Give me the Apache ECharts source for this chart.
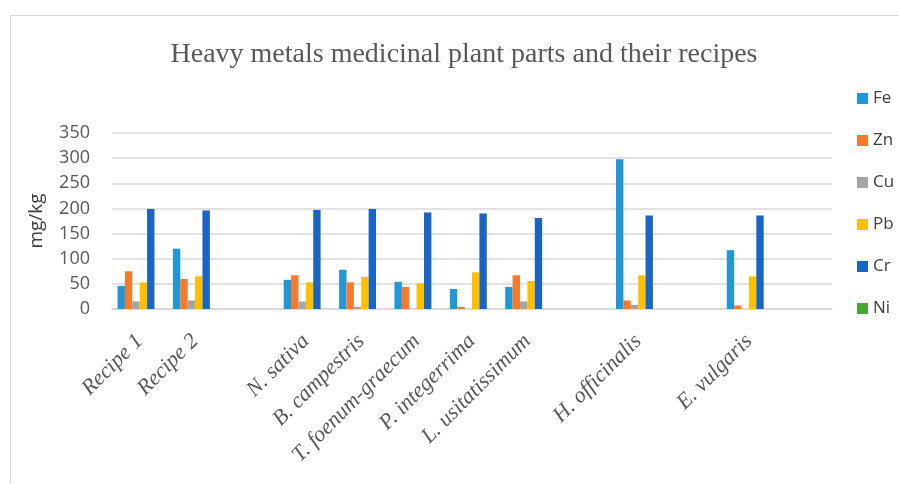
<!DOCTYPE html>
<html lang="en">
<head>
<meta charset="UTF-8">
<title>Heavy metals</title>
<script src="https://cdn.jsdelivr.net/npm/echarts@6/dist/echarts.min.js"></script>
<style>
  html, body { margin: 0; padding: 0; background: #fff; }
  #main { width: 899px; height: 484px; }
</style>
</head>
<body>
<div id="main"></div>
<script type="text/javascript">
// categories (empty strings are the gaps in the original chart)
var categories = ['Recipe 1', 'Recipe 2', '', 'N. sativa', 'B. campestris', 'T. foenum-graecum',
    'P. integerrima', 'L. usitatissimum', '', 'H. officinalis', '', 'E. vulgaris', ''];
var fe = [46, 120, null, 58, 78, 54, 40, 44, null, 298, null, 117, null];
var zn = [75, 60, null, 67, 53, 44, 4, 67, null, 17, null, 7, null];
var cu = [15, 17, null, 15, 4, 0, 0, 15, null, 8, null, 0, null];
var pb = [53, 65, null, 53, 64, 51, 73, 56, null, 67, null, 65, null];
var cr = [199, 196, null, 197, 199, 192, 190, 181, null, 186, null, 186, null];
var ni = [0, 0, null, 0, 0, 0, 0, 0, null, 0, null, 0, null];
var yTicks = [0, 50, 100, 150, 200, 250, 300, 350];

var seriesNames = ['Fe', 'Zn', 'Cu', 'Pb', 'Cr', 'Ni'];
var seriesData = [fe, zn, cu, pb, cr, ni];
var colors = ['#2396d6', '#f57b2a', '#a5a5a5', '#ffc000', '#1a64c4', '#45a635'];

var myChart = echarts.init(document.getElementById('main'));

var series = seriesNames.map(function (name, i) {
    return {
        name: name,
        type: 'bar',
        data: seriesData[i],
        barGap: '0%',
        barCategoryGap: '20%',
        itemStyle: { color: colors[i] }
    };
});

var option = {
    color: colors,
    animation: false,
    // faint frame around the chart (open at right/bottom like the picture)
    graphic: [{
        type: 'rect',
        shape: { x: 10.5, y: 15.5, width: 900, height: 480 },
        style: { fill: 'none', stroke: '#d9d9d9', lineWidth: 1 },
        silent: true
    }],
    title: {
        text: 'Heavy metals medicinal plant parts and their recipes',
        left: 459,
        textAlign: 'center',
        top: 36,
        textStyle: {
            fontFamily: 'Liberation Serif',
            fontSize: 28,
            fontWeight: 'normal',
            color: '#595959'
        }
    },
    legend: {
        orient: 'vertical',
        left: 852,
        top: 85,
        itemWidth: 11,
        itemHeight: 11,
        itemGap: 25,
        icon: 'rect',
        data: seriesNames,
        textStyle: {
            fontFamily: 'Open Sans',
            fontSize: 17,
            color: '#404040'
        }
    },
    grid: {
        left: 112,
        right: 67,
        top: 133,
        bottom: 175
    },
    xAxis: {
        type: 'category',
        data: categories,
        axisTick: { show: false },
        axisLine: { lineStyle: { color: '#d9d9d9', width: 1.5 } },
        axisLabel: {
            interval: 0,
            rotate: 45,
            margin: 29,
            fontFamily: 'Liberation Serif',
            fontStyle: 'italic',
            fontSize: 22,
            color: '#595959'
        }
    },
    yAxis: {
        type: 'value',
        min: yTicks[0],
        max: yTicks[yTicks.length - 1],
        interval: 50,
        name: 'mg/kg',
        nameLocation: 'middle',
        nameGap: 66,
        nameTextStyle: {
            fontFamily: 'Open Sans',
            fontSize: 19,
            color: '#404040'
        },
        axisLine: { show: false },
        axisTick: { show: false },
        axisLabel: {
            margin: 22,
            fontFamily: 'Open Sans',
            fontSize: 18,
            color: '#595959'
        },
        splitLine: { lineStyle: { color: '#d9d9d9', width: 1.5 } }
    },
    series: series
};

myChart.setOption(option);
</script>
</body>
</html>
